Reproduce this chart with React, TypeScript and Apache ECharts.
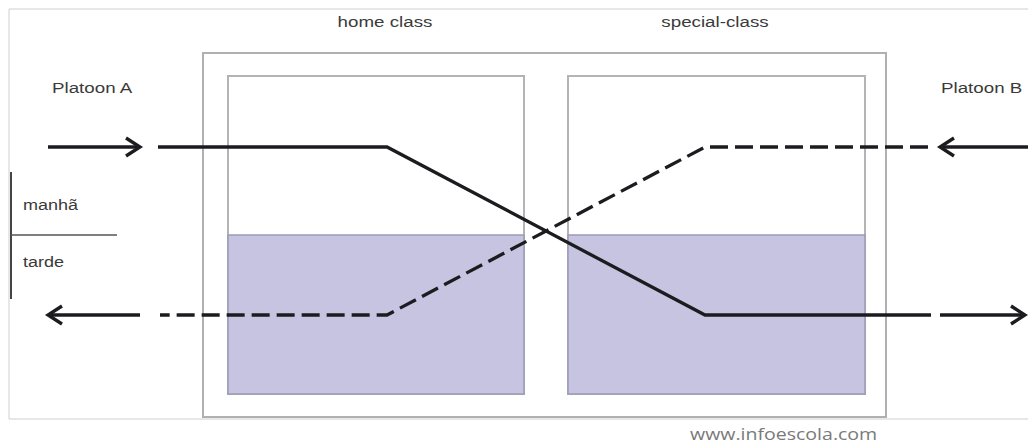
import React, { useEffect, useRef } from "react";
import * as echarts from "echarts";

const WIDTH = 1028;
const HEIGHT = 444;

// diagram geometry in page units (x: 0..1028, y: 0..444, top-down)
const sheetBorder = [9, 9, 1040, 419];
const buildingFrame = [203, 53, 886, 417];
const classrooms = [
  [228, 76, 524, 394],
  [568, 76, 865, 394],
];
const afternoonTop = 235;

const roomLabels = ["home class", "special-class"];
const roomLabelX = [385, 715];
const platoonLabels = ["Platoon A", "Platoon B"];
const platoonLabelX = [52, 941];
const shiftLabels = ["manhã", "tarde"];
const shiftLabelY = [205, 262];

const platoonAPath = [
  [158, 147],
  [387, 147],
  [705, 315],
  [931, 315],
];
const platoonBPath = [
  [928, 147],
  [705, 147],
  [387, 315],
  [160, 315],
];
const platoonAArrows = [
  [[48, 147], [140, 147]],
  [[940, 315], [1025, 315]],
];
const platoonBArrows = [
  [[1030, 147], [940, 147]],
  [[140, 315], [48, 315]],
];
const shiftBracket = [
  [11, 172],
  [11, 299],
];
const shiftDivider = [
  [11, 235],
  [117, 235],
];

const INK = "#1c1c20";
const DASH = [18, 7];

function chevron(from: number[], to: number[]) {
  const dx = to[0] - from[0];
  const dy = to[1] - from[1];
  const len = Math.hypot(dx, dy) || 1;
  const ux = dx / len;
  const uy = dy / len;
  const back = 14;
  const half = 9;
  return [
    [to[0] - ux * back - uy * half, to[1] - uy * back + ux * half],
    [to[0], to[1]],
    [to[0] - ux * back + uy * half, to[1] - uy * back - ux * half],
  ];
}

function lineSeries(data: number[][], opts: any = {}) {
  return {
    type: "line",
    data,
    symbol: "none",
    silent: true,
    animation: false,
    z: opts.z ?? 5,
    lineStyle: {
      color: opts.color ?? INK,
      width: opts.width ?? 3.3,
      type: opts.type ?? "solid",
      cap: "butt",
      join: "miter",
    },
  };
}

export default function App() {
  const ref = useRef<HTMLDivElement>(null);

  useEffect(() => {
    if (!ref.current) return;
    const chart = echarts.init(ref.current, undefined, { renderer: "svg" });

    const rects: any[] = [];
    rects.push({ value: [...sheetBorder, 0] });
    rects.push({ value: [...buildingFrame, 1] });
    classrooms.forEach((r) => rects.push({ value: [...r, 2] }));
    classrooms.forEach((r) =>
      rects.push({ value: [r[0], afternoonTop, r[2], r[3], 3] })
    );

    const rectStyles = [
      { fill: "none", stroke: "#cfcfcf", lineWidth: 1 },
      { fill: "#ffffff", stroke: "#b0b0b0", lineWidth: 2 },
      { fill: "#ffffff", stroke: "#b4b4b4", lineWidth: 2 },
      { fill: "#c6c4e0", stroke: "#9c9ab6", lineWidth: 1.5 },
    ];

    const series: any[] = [
      {
        type: "custom",
        silent: true,
        z: 1,
        data: rects,
        renderItem: (_params: any, api: any) => {
          const p0 = api.coord([api.value(0), api.value(1)]);
          const p1 = api.coord([api.value(2), api.value(3)]);
          const kind = api.value(4);
          return {
            type: "rect",
            shape: {
              x: Math.min(p0[0], p1[0]),
              y: Math.min(p0[1], p1[1]),
              width: Math.abs(p1[0] - p0[0]),
              height: Math.abs(p1[1] - p0[1]),
            },
            style: rectStyles[kind],
          };
        },
      },
      lineSeries(platoonAPath),
      lineSeries(platoonBPath, { type: DASH }),
      lineSeries(shiftBracket, { color: "#444", width: 2 }),
      lineSeries(shiftDivider, { color: "#555", width: 1.5 }),
    ];
    [...platoonAArrows, ...platoonBArrows].forEach(([from, to]) => {
      series.push(lineSeries([from, to]));
      series.push(lineSeries(chevron(from, to)));
    });

    const textStyle = {
      fontFamily: "Liberation Sans, Arial, sans-serif",
      fontSize: 15,
      fill: "#3a3a3a",
    };
    const graphic: any[] = [];
    roomLabels.forEach((t, i) =>
      graphic.push({
        type: "text",
        x: roomLabelX[i],
        y: 22,
        scaleX: 1.25,
        style: { ...textStyle, text: t, align: "center", verticalAlign: "middle" },
      })
    );
    platoonLabels.forEach((t, i) =>
      graphic.push({
        type: "text",
        x: platoonLabelX[i],
        y: 88,
        scaleX: 1.25,
        style: { ...textStyle, text: t, align: "left", verticalAlign: "middle" },
      })
    );
    shiftLabels.forEach((t, i) =>
      graphic.push({
        type: "text",
        x: 23,
        y: shiftLabelY[i],
        scaleX: 1.2,
        style: { ...textStyle, text: t, align: "left", verticalAlign: "middle" },
      })
    );
    graphic.push({
      type: "text",
      x: 690,
      y: 433,
      scaleX: 1.15,
      style: {
        text: "www.infoescola.com",
        fontFamily: "Open Sans, sans-serif",
        fontSize: 17,
        fill: "#7a7a7a",
        align: "left",
        verticalAlign: "middle",
      },
    });

    chart.setOption({
      animation: false,
      backgroundColor: "#ffffff",
      grid: { left: 0, right: 0, top: 0, bottom: 0 },
      xAxis: { type: "value", min: 0, max: WIDTH, show: false },
      yAxis: { type: "value", min: 0, max: HEIGHT, inverse: true, show: false },
      series,
      graphic,
    });

    return () => chart.dispose();
  }, []);

  return (
    <div
      ref={ref}
      style={{ position: "fixed", left: 0, top: 0, width: WIDTH, height: HEIGHT }}
    />
  );
}
